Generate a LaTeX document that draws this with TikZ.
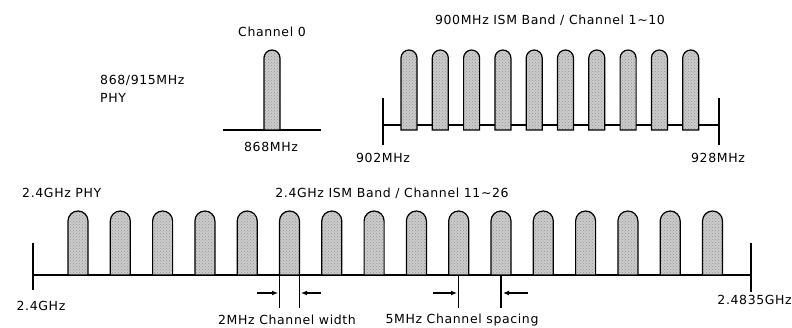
\documentclass[tikz,border=0pt]{standalone}
\usepackage{fontspec}
\setmainfont{DejaVu Sans}[LetterSpace=5]
\usetikzlibrary{arrows.meta,patterns}
\newcommand\chanbar[4]{\path[chan] ({#1},{#4}) -- ({#1},{#3+#2/2}) arc[start angle=180,end angle=360,radius={#2/2}] -- ({#1+#2},{#4}) -- cycle;}
\begin{document}
\begin{tikzpicture}[x=1pt,y=-1pt,
  lbl/.style={font=\fontsize{12.5}{14}\selectfont, inner sep=0pt},
  ax/.style={line width=1.5pt},
  chan/.style={draw, line width=1.2pt, preaction={fill=gray!40}, pattern=crosshatch dots, pattern color=gray!85},
  arr/.style={line width=1.2pt, -{Latex[length=6pt,width=5pt]}}
]
\useasboundingbox (0,0) rectangle (792,328);
% 868 MHz
\draw[ax] (223,130) coordinate (b0l) -- (321,130) coordinate (b0r);
\chanbar{264}{16}{50}{130}
% 900 MHz
\coordinate (a1l) at (383,125); \coordinate (a1r) at (719,125);
\draw[ax] (a1l) -- (a1r);
\draw[ax] (383,98) -- (383,145);
\draw[ax] (719,98) -- (719,145);
\foreach \i in {0,...,9} {\chanbar{401+31.3*\i}{16}{50}{130}}
% 2.4 GHz
\coordinate (a2l) at (33,275); \coordinate (a2r) at (751,275);
\draw[ax] (a2l) -- (a2r);
\draw[ax] (33,243) -- (33,290);
\draw[ax] (751,243) -- (751,292);
\foreach \i in {0,...,15} {\chanbar{68+42.3*\i}{20}{211}{275}}
% channel width
\draw[ax] (279.5,275) coordinate (w1) -- (279.5,308);
\draw[ax] (299.5,275) coordinate (w2) -- (299.5,308);
\coordinate (wa1) at (257,293); \coordinate (wa1e) at (278,293);
\coordinate (wa2) at (321,293); \coordinate (wa2e) at (301,293);
\draw[arr] (wa1) -- (wa1e);
\draw[arr] (wa2) -- (wa2e);
% channel spacing
\draw[ax] (458.7,275) -- (458.7,308);
\draw[ax] (501,275) -- (501,308);
\coordinate (sa1) at (433,293); \coordinate (sa1e) at (457,293);
\coordinate (sa2) at (528,293); \coordinate (sa2e) at (503,293);
\draw[arr] (sa1) -- (sa1e);
\draw[arr] (sa2) -- (sa2e);
% labels
\node[lbl,anchor=west] (phy1) at (100,80) {868/915MHz};
\node[lbl,anchor=west] (phy1b) at (100,98) {PHY};
\node[lbl] (ch0) at (272,32) {Channel 0};
\node[lbl] (f868) at (271,147) {868MHz};
\node[lbl] (t900) at (550,20) {900MHz ISM Band / Channel 1\textasciitilde10};
\node[lbl] (f902) at (383,158) {902MHz};
\node[lbl] (f928) at (718,158) {928MHz};
\node[lbl,anchor=west] (phy2) at (22,193) {2.4GHz PHY};
\node[lbl] (t24) at (392,193) {2.4GHz ISM Band / Channel 11\textasciitilde26};
\node[lbl] (f24) at (41,306) {2.4GHz};
\node[lbl,anchor=east] (f2483) at (792,300) {2.4835GHz};
\node[lbl] (cw) at (287,320) {2MHz Channel width};
\node[lbl] (cs) at (462,320) {5MHz Channel spacing};
\end{tikzpicture}
\end{document}
